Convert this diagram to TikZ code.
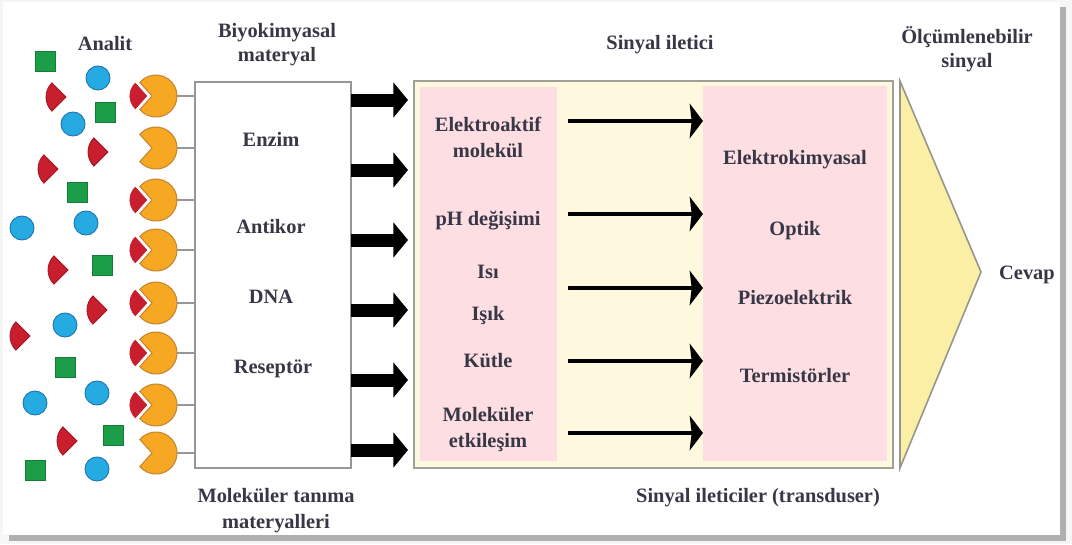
\documentclass[tikz,border=0pt]{standalone}
\usepackage{fontspec}
\setmainfont{Liberation Serif}
\usetikzlibrary{calc,arrows.meta,fit}
\definecolor{txt}{RGB}{55,55,70}
\definecolor{bgc}{RGB}{246,246,246}
\definecolor{shad}{RGB}{175,175,175}
\definecolor{pacO}{RGB}{247,168,35}
\definecolor{pacD}{RGB}{196,134,52}
\definecolor{redF}{RGB}{200,30,45}
\definecolor{redD}{RGB}{160,22,35}
\definecolor{bluF}{RGB}{38,170,226}
\definecolor{bluD}{RGB}{30,118,176}
\definecolor{grnF}{RGB}{28,158,72}
\definecolor{grnD}{RGB}{22,122,56}
\definecolor{pinkF}{RGB}{253,222,226}
\definecolor{creamF}{RGB}{254,248,222}
\definecolor{creamE}{RGB}{160,160,150}
\definecolor{triF}{RGB}{251,238,165}
\definecolor{triE}{RGB}{150,150,140}
\definecolor{boxE}{RGB}{150,150,150}
\begin{document}
\begin{tikzpicture}[x=0.75pt,y=-0.75pt,
  lbl/.style={font=\fontsize{15.3}{18}\selectfont\bfseries, text=txt, anchor=base, inner sep=0pt},
  pacstyle/.style={fill=pacO, draw=pacD, line width=0.8pt},
  redstyle/.style={fill=redF, draw=redD, line width=0.6pt},
  inmouth/.style={fill=redF, draw=white, line width=0.6pt},
  bluestyle/.style={fill=bluF, draw=bluD, line width=0.7pt},
  greenstyle/.style={fill=grnF, draw=grnD, line width=0.5pt},
  link/.style={draw=boxE, line width=0.8pt},
  bigarrow/.style={draw=black, line width=9.75pt, -{Triangle[length=11pt,width=26pt]}},
  smallarrow/.style={draw=black, line width=3.5pt, -{Stealth[length=10pt,width=26pt,inset=1.5pt]}},
  panel/.style={inner sep=0pt, outer sep=0pt}]
\useasboundingbox (0,0) rectangle (1072,544);
% frame
\fill[bgc] (0,0) rectangle (1072,544);
\fill[shad] (9,7) rectangle (1066,541);
\fill[white] (3,2) rectangle (1060,535);

% boxes
\node[panel, fit={(195,82) (351,468)}, draw=boxE, line width=1.1pt, fill=white] (wbox) {};
\node[panel, fit={(414,81) (893,468)}, draw=creamE, line width=1.5pt, fill=creamF] (cbox) {};
\node[panel, fit={(420,87) (557,461)}, fill=pinkF] (lpink) {};
\node[panel, fit={(703,86) (887,461)}, fill=pinkF] (rpink) {};
\filldraw[fill=triF, draw=triE, line width=1.2pt] (900,81) -- (981,272) -- (900,468) -- cycle;

% pacmen (receptors)
\foreach \yy/\hasred [count=\i] in {96/1,148/0,200/1,250/1,303/1,353/1,405/1,453/0} {
  \filldraw[pacstyle] (152,\yy) -- ($(156,\yy)+(140:21)$) arc[start angle=140,end angle=-140,radius=21] -- cycle;
  \coordinate (pac\i) at (177,\yy);
  \ifnum\hasred=1
    \filldraw[inmouth] (148,\yy) -- ++(132:19) arc[start angle=132,end angle=228,radius=19] -- cycle;
  \fi
}
\foreach \i in {1,...,8} \draw[link] (pac\i) -- (wbox.west |- pac\i);

% free analytes
\foreach \xx/\yy in {66/97,108/152,58/169,68/270,107/310,30/336,77/441}
  \filldraw[redstyle] (\xx,\yy) -- ++(135:20) arc[start angle=135,end angle=225,radius=20] -- cycle;
\foreach \xx/\yy in {98/78,73/124,22/228,86/223,65/325,35/403,97/393,97/469}
  \filldraw[bluestyle] (\xx,\yy) circle[radius=12];
\foreach \xx/\yy in {45/61,105/112,77/192,102/265,65/367,113/435,35/470}
  \filldraw[greenstyle] ($(\xx,\yy)+(-10,-10)$) rectangle ++(20,20);

% thick arrows
\foreach \yy [count=\i] in {100,170,240,310,380,450} {
  \coordinate (ta\i) at (0,\yy);
  \draw[bigarrow, shorten >=4.5pt] (wbox.east |- ta\i) -- (cbox.west |- ta\i);
}
% thin arrows
\foreach \yy [count=\i] in {121,214,288,361,433} {
  \coordinate (tb\i) at (0,\yy);
  \draw[smallarrow, shorten <=8.25pt] (lpink.east |- tb\i) -- (rpink.west |- tb\i);
}

% labels
\node[lbl] (lAnalit) at (105,50) {Analit};
\node[lbl] (lBio1) at (277,37) {Biyokimyasal};
\node[lbl] (lBio2) at (277,61) {materyal};
\node[lbl] (lMol1) at (276,502) {Moleküler tanıma};
\node[lbl] (lMol2) at (276,528) {materyalleri};
\node[lbl] (lSin) at (660,49) {Sinyal iletici};
\node[lbl] (lOlc1) at (967,43) {Ölçümlenebilir};
\node[lbl] (lOlc2) at (967,67) {sinyal};
\node[lbl] (lTrans) at (758,502) {Sinyal ileticiler (transduser)};
\node[lbl] (lCevap) at (1027,279) {Cevap};

\node[lbl] (wEnzim) at (271,146) {Enzim};
\node[lbl] (wAnti) at (271,233) {Antikor};
\node[lbl] (wDNA) at (271,303) {DNA};
\node[lbl] (wRes) at (273,373) {Reseptör};

\node[lbl] (p1a) at (488,131) {Elektroaktif};
\node[lbl] (p1b) at (488,157) {molekül};
\node[lbl] (p2) at (488,225) {pH değişimi};
\node[lbl] (p3) at (488,278) {Isı};
\node[lbl] (p4) at (488,320) {Işık};
\node[lbl] (p5) at (488,367) {Kütle};
\node[lbl] (p6a) at (488,421) {Moleküler};
\node[lbl] (p6b) at (488,447) {etkileşim};

\node[lbl] (r1) at (795,164) {Elektrokimyasal};
\node[lbl] (r2) at (795,235) {Optik};
\node[lbl] (r3) at (795,304) {Piezoelektrik};
\node[lbl] (r4) at (795,382) {Termistörler};
\end{tikzpicture}
\end{document}
